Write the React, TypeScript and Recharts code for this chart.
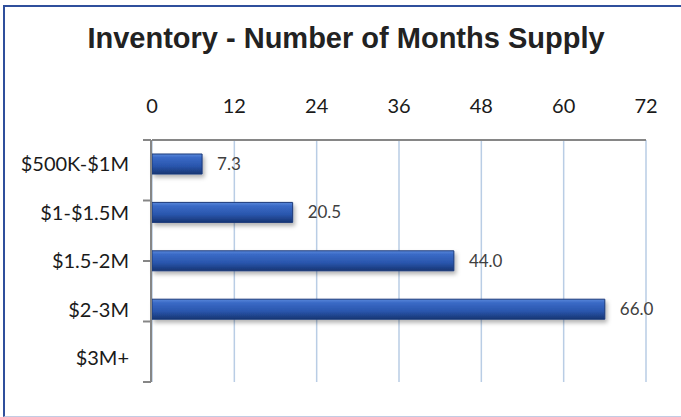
import { Bar, BarChart, CartesianGrid, LabelList, XAxis, YAxis } from 'recharts'

const categories = ['$500K-$1M', '$1-$1.5M', '$1.5-2M', '$2-3M', '$3M+']
const monthsSupply: (number | null)[] = [7.3, 20.5, 44.0, 66.0, null]
const xTicks = [0, 12, 24, 36, 48, 60, 72]
const bandEdges = [0, 1, 2, 3, 4, 5]

const chartData = categories.map((name, i) => ({ name, months: monthsSupply[i] }))

const tickFont = { fontFamily: 'Lato, sans-serif', fontSize: 20, fill: '#1a1a1a' }

export default function App() {
  return (
    <div style={{ position: 'absolute', left: 0, top: 0, width: 681, height: 417, background: '#fff' }}>
      <div
        style={{
          position: 'absolute',
          left: 3,
          top: 5,
          width: 678,
          height: 409,
          borderLeft: '2px solid #2f4f9c',
          borderTop: '2px solid #2f4f9c',
          borderBottom: '1px solid #c3cbe3',
        }}
      />
      <div
        style={{
          position: 'absolute',
          left: 0,
          top: 22,
          width: 692,
          textAlign: 'center',
          fontFamily: '"Liberation Sans", Arial, sans-serif',
          fontWeight: 700,
          fontSize: 29,
          color: '#222',
        }}
      >
        Inventory - Number of Months Supply
      </div>
      <BarChart
        width={681}
        height={417}
        data={chartData}
        layout="vertical"
        margin={{ top: 110, right: 35, bottom: 35, left: 150 }}
        style={{ position: 'absolute', left: 0, top: 0 }}
      >
        <defs>
          <linearGradient id="barFill" x1="0" y1="0" x2="0" y2="1">
            <stop offset="0%" stopColor="#5a88da" />
            <stop offset="18%" stopColor="#3a6ac6" />
            <stop offset="60%" stopColor="#2a56ad" />
            <stop offset="100%" stopColor="#173573" />
          </linearGradient>
          <filter id="barShadow" x="-10%" y="-30%" width="130%" height="190%">
            <feDropShadow dx="2" dy="3" stdDeviation="2" floodColor="#000" floodOpacity="0.3" />
          </filter>
        </defs>
        <CartesianGrid horizontal={false} stroke="#b9cde5" strokeWidth={1.5} />
        <XAxis
          type="number"
          orientation="top"
          domain={[0, 72]}
          ticks={xTicks}
          interval={0}
          height={30}
          axisLine={{ stroke: '#868686', strokeWidth: 2 }}
          tickLine={false}
          tickSize={0}
          tickMargin={27}
          tick={tickFont}
        />
        <YAxis
          type="category"
          dataKey="name"
          width={1}
          axisLine={false}
          tickLine={false}
          tickSize={8}
          tickMargin={15}
          tick={tickFont}
        />
        <YAxis
          yAxisId="edges"
          type="number"
          domain={[0, 5]}
          ticks={bandEdges}
          interval={0}
          width={1}
          tick={() => <g />}
          tickSize={8}
          axisLine={{ stroke: '#868686', strokeWidth: 2 }}
          tickLine={{ stroke: '#868686', strokeWidth: 2 }}
        />
        <Bar
          dataKey="months"
          barSize={20}
          fill="url(#barFill)"
          stroke="#1b3a7a"
          strokeWidth={1}
          filter="url(#barShadow)"
          isAnimationActive={false}
        >
          <LabelList
            dataKey="months"
            position="right"
            offset={15}
            fill="#404040"
            fontSize={17}
            fontFamily="Lato, sans-serif"
            formatter={(v: number | null) => (v == null ? '' : v.toFixed(1))}
          />
        </Bar>
      </BarChart>
    </div>
  )
}
